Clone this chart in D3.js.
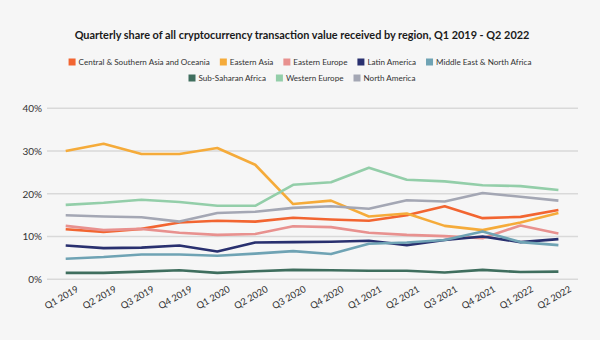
<!DOCTYPE html>
<html>
<head>
<meta charset="utf-8">
<script src="https://cdn.jsdelivr.net/npm/d3@7"></script>
<style>
  html, body { margin: 0; padding: 0; background: #f6f6f6; }
  svg { display: block; }
</style>
</head>
<body>
<svg id="chart" width="600" height="340"></svg>
<script>
// Quarter labels along the x axis
const quarters = ["Q1 2019","Q2 2019","Q3 2019","Q4 2019","Q1 2020","Q2 2020","Q3 2020","Q4 2020",
                  "Q1 2021","Q2 2021","Q3 2021","Q4 2021","Q1 2022","Q2 2022"];

// Region names (legend order)
const regions = ["Central & Southern Asia and Oceania","Eastern Asia","Eastern Europe","Latin America",
                 "Middle East & North Africa","Sub-Saharan Africa","Western Europe","North America"];

// Share of transaction value received, percent per quarter
const centralSouthernAsia = [11.7,11.1,11.8,13.3,13.7,13.5,14.4,14.0,13.7,15.0,17.1,14.3,14.6,16.2];
const easternAsia         = [30.0,31.7,29.3,29.3,30.7,26.8,17.6,18.4,14.7,15.4,12.5,11.5,13.3,15.5];
const easternEurope       = [12.5,11.5,11.8,10.9,10.4,10.6,12.4,12.2,10.9,10.4,10.1,9.6,12.6,10.7];
const latinAmerica        = [7.9,7.3,7.4,7.9,6.5,8.6,8.7,8.8,9.0,8.0,9.2,10.0,8.7,9.4];
const middleEastNAfrica   = [4.8,5.2,5.8,5.8,5.5,6.0,6.6,5.9,8.3,8.6,9.2,11.2,8.7,8.0];
const subSaharanAfrica    = [1.5,1.5,1.8,2.1,1.5,1.9,2.2,2.1,2.0,2.0,1.6,2.2,1.7,1.8];
const westernEurope       = [17.4,17.9,18.6,18.1,17.2,17.2,22.1,22.7,26.1,23.3,22.9,22.0,21.8,20.9];
const northAmerica        = [15.0,14.7,14.5,13.5,15.5,15.8,16.7,17.1,16.5,18.5,18.2,20.2,19.3,18.4];

// Y axis ticks
const yTicks = [0, 10, 20, 30, 40];

const colors = ["#f26531","#f5ab3a","#e8918f","#29306f","#6fa3b4","#3f6e5e","#93cea9","#a4a7b4"];
const seriesValues = [centralSouthernAsia, easternAsia, easternEurope, latinAmerica,
                      middleEastNAfrica, subSaharanAfrica, westernEurope, northAmerica];

const series = regions.map((name, i) => ({ name, color: colors[i], values: seriesValues[i] }));

const svg = d3.select("#chart");
const W = 600, H = 340;
const font = "Lato, 'Open Sans', sans-serif";

svg.append("rect").attr("width", W).attr("height", H).attr("fill", "#f6f6f6");

// Title
svg.append("text")
  .attr("x", 302).attr("y", 39)
  .attr("text-anchor", "middle")
  .attr("font-family", font)
  .attr("font-weight", 700)
  .attr("font-size", 10.9)
  .attr("fill", "#1a1a1a")
  .text("Quarterly share of all cryptocurrency transaction value received by region, Q1 2019 - Q2 2022");

// Legend, two centred rows
const legendRows = [[0,1,2,3,4],[5,6,7]];
const legendY = [62, 78];
const sw = 7, gapText = 3, gapItem = 10;
legendRows.forEach((row, r) => {
  const g = svg.append("g");
  let x = 0;
  row.forEach(i => {
    const item = g.append("g").attr("transform", `translate(${x},0)`);
    item.append("rect").attr("x", 0).attr("y", -sw / 2).attr("width", sw).attr("height", sw)
      .attr("fill", colors[i]);
    const t = item.append("text")
      .attr("x", sw + gapText).attr("y", 0).attr("dy", "0.35em")
      .attr("font-family", font).attr("font-size", 8.1).attr("fill", "#333")
      .text(regions[i]);
    x += sw + gapText + t.node().getComputedTextLength() + gapItem;
  });
  const total = x - gapItem;
  const cx = r === 0 ? 300 : 302;
  g.attr("transform", `translate(${cx - total / 2},${legendY[r]})`);
});

// Scales
const x = d3.scalePoint().domain(quarters).range([65.7, 558.4]);
const y = d3.scaleLinear().domain([0, 40]).range([279.3, 108.3]);

// Gridlines
svg.append("g")
  .selectAll("line")
  .data(yTicks)
  .join("line")
  .attr("x1", 47).attr("x2", 578)
  .attr("y1", d => y(d)).attr("y2", d => y(d))
  .attr("stroke", "#d9d9d9").attr("stroke-width", 1.5);

// Y axis labels
const yAxis = svg.append("g")
  .attr("transform", "translate(42,0)")
  .call(d3.axisLeft(y).tickValues(yTicks).tickSize(0).tickPadding(0).tickFormat(d => d + "%"));
yAxis.select(".domain").remove();
yAxis.selectAll("text")
  .attr("font-family", font).attr("font-size", 10).attr("fill", "#333");

// X axis labels, rotated
const xAxis = svg.append("g")
  .attr("transform", "translate(0,283)")
  .call(d3.axisBottom(x).tickSize(0).tickPadding(0));
xAxis.select(".domain").remove();
xAxis.selectAll("text")
  .attr("font-family", font).attr("font-size", 9.4).attr("fill", "#333")
  .attr("text-anchor", "end")
  .attr("y", 0).attr("dy", 0)
  .attr("transform", "translate(13,8) rotate(-30)");

// Lines
const line = d3.line()
  .x((d, i) => x(quarters[i]))
  .y(d => y(d));

svg.append("g")
  .selectAll("path")
  .data(series)
  .join("path")
  .attr("d", d => line(d.values))
  .attr("fill", "none")
  .attr("stroke", d => d.color)
  .attr("stroke-width", 2.6)
  .attr("stroke-linejoin", "round");
</script>
</body>
</html>
